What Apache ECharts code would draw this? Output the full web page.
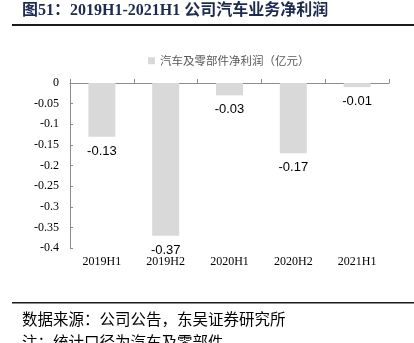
<!DOCTYPE html>
<html>
<head>
<meta charset="utf-8">
<script src="https://cdn.jsdelivr.net/npm/echarts@6/dist/echarts.min.js"></script>
<style>
  html, body { margin: 0; padding: 0; background: #fff; }
  #chart { width: 414px; height: 343px; }
</style>
</head>
<body>
<div id="chart"></div>
<script>
// Half-year periods and the auto & parts segment net profit (100M CNY)
const periods = ['2019H1', '2019H2', '2020H1', '2020H2', '2021H1'];
const netProfit = [-0.13, -0.37, -0.03, -0.17, -0.01];
const seriesName = '汽车及零部件净利润（亿元）';
const titleText = '图51：2019H1-2021H1 公司汽车业务净利润';
const sourceText = '数据来源：公司公告，东吴证券研究所';
const noteText = '注：统计口径为汽车及零部件';

const serif = '"Liberation Serif", "Times New Roman", "Noto Sans CJK SC", serif';
const cjk = '"Noto Sans CJK SC", sans-serif';
const axisGray = '#8c8c8c';

const chart = echarts.init(document.getElementById('chart'));
chart.setOption({
  animation: false,
  backgroundColor: '#ffffff',
  legend: {
    data: [seriesName],
    left: 143,
    top: 50,
    itemWidth: 7,
    itemHeight: 7,
    itemGap: 4,
    icon: 'rect',
    textStyle: { fontFamily: cjk, fontSize: 11.5, color: '#595959' }
  },
  grid: { left: 70, right: 25, top: 83, bottom: 95, containLabel: false },
  xAxis: [
    {
      type: 'category',
      data: periods,
      position: 'bottom',
      axisLine: { show: false },
      axisTick: { show: false },
      axisLabel: { fontFamily: serif, fontSize: 12, color: '#000', margin: 8 }
    },
    {
      type: 'category',
      data: periods,
      position: 'top',
      axisLine: { show: true, onZero: false, lineStyle: { color: axisGray, width: 1 } },
      axisTick: { show: true, inside: false, length: 4, lineStyle: { color: axisGray } },
      axisLabel: { show: false }
    }
  ],
  yAxis: {
    type: 'value',
    min: -0.4,
    max: 0,
    interval: 0.05,
    axisLine: { show: true, lineStyle: { color: axisGray } },
    axisTick: { show: true, inside: true, length: 3, lineStyle: { color: axisGray } },
    splitLine: { show: false },
    axisLabel: { fontFamily: serif, fontSize: 12, color: '#000', margin: 11 }
  },
  series: [{
    name: seriesName,
    type: 'bar',
    data: netProfit,
    barWidth: 27,
    itemStyle: { color: '#d9d9d9' },
    label: {
      show: true,
      position: 'bottom',
      distance: 8,
      fontFamily: '"Liberation Sans", Arial, sans-serif',
      fontSize: 13,
      color: '#000',
      formatter: p => p.value.toFixed(2)
    }
  }],
  graphic: [
    {
      type: 'text', left: 22, top: 3,
      style: { text: titleText, font: 'bold 16px ' + serif, fill: '#1c2b50' }
    },
    {
      type: 'rect', shape: { x: 12, y: 24, width: 402, height: 2 },
      style: { fill: '#1a1a1a' }
    },
    {
      type: 'rect', shape: { x: 12, y: 302, width: 402, height: 1.5 },
      style: { fill: '#1a1a1a' }
    },
    {
      type: 'text', left: 22, top: 311,
      style: { text: sourceText, font: '15.5px ' + cjk, fill: '#000' }
    },
    {
      type: 'text', left: 22, top: 334,
      style: { text: noteText, font: '15.5px ' + cjk, fill: '#000' }
    }
  ]
});
</script>
</body>
</html>
